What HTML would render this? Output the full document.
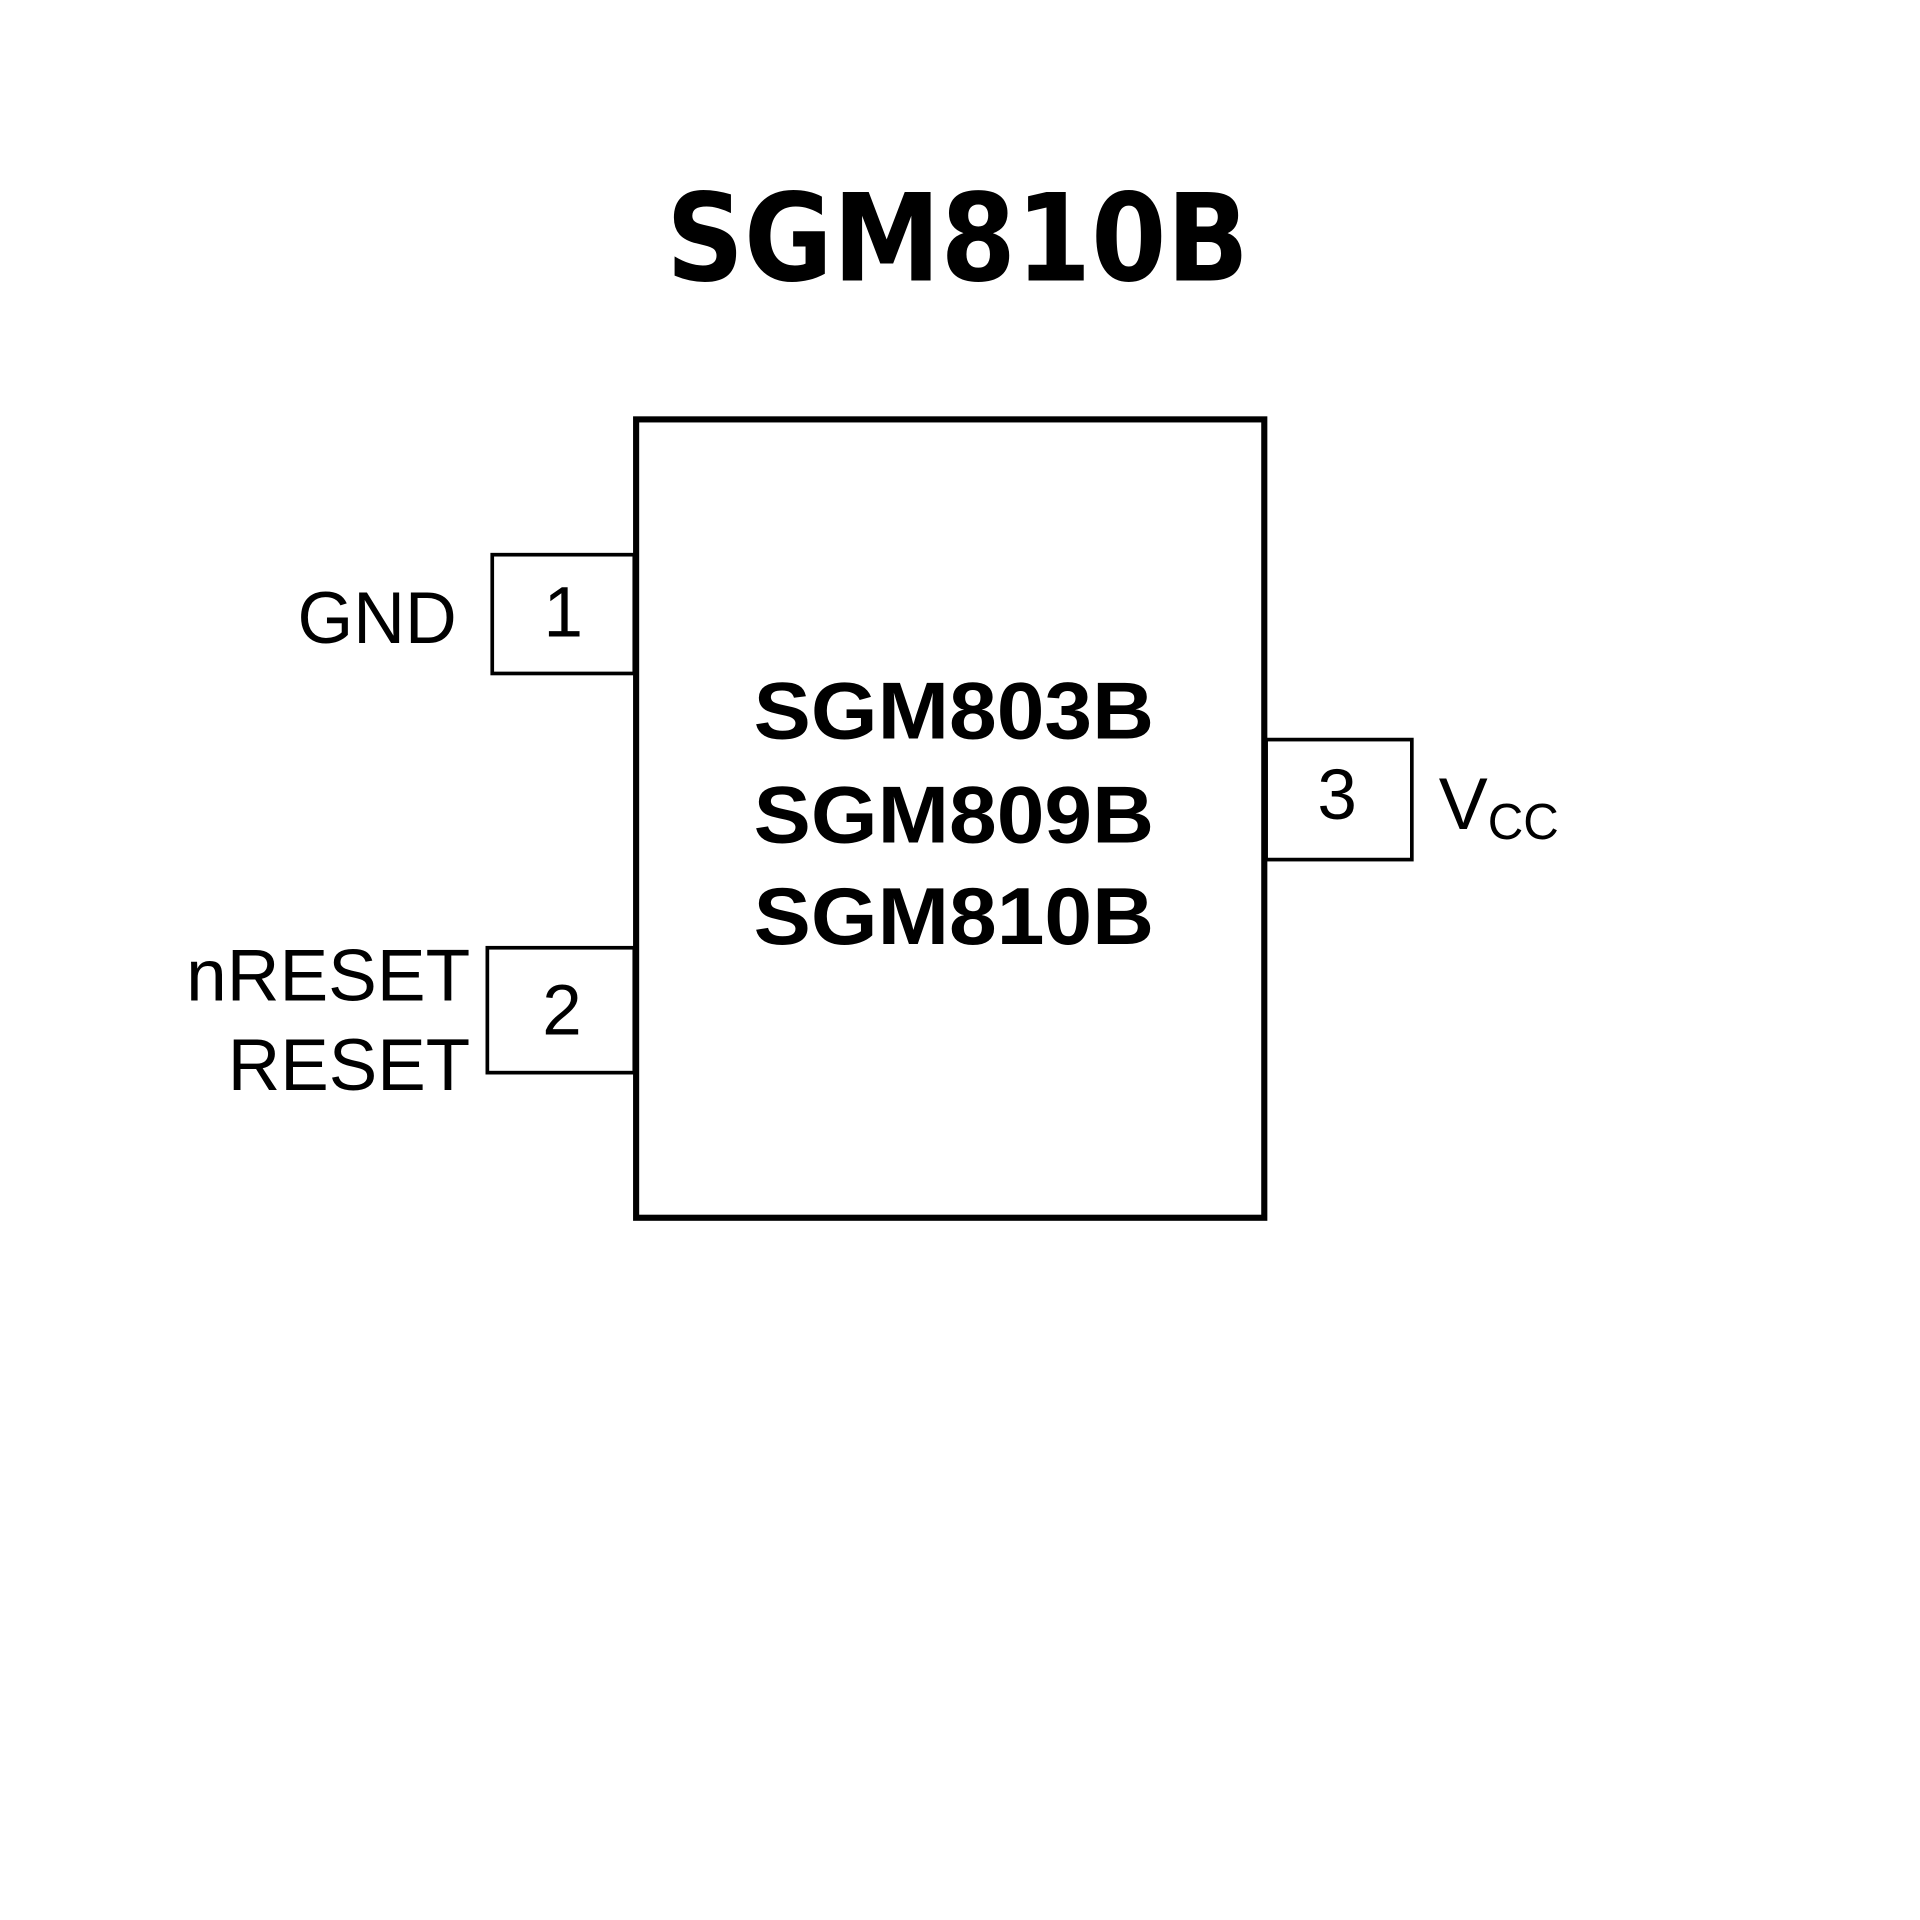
<!DOCTYPE html>
<html><head><meta charset="utf-8"><style>
html,body{margin:0;padding:0;background:#fff;}
svg{display:block;}
</style></head><body>
<svg width="1920" height="1920" viewBox="0 0 1568 1568" xmlns="http://www.w3.org/2000/svg">
<rect width="1568" height="1568" fill="#fff"/>
<text x="782" y="229" text-anchor="middle" font-family="'DejaVu Sans',sans-serif" font-weight="bold" font-size="99" textLength="476" lengthAdjust="spacingAndGlyphs">SGM810B</text>
<rect x="519.5" y="342.5" width="513" height="652" fill="none" stroke="#000" stroke-width="5"/>
<rect x="402" y="453" width="116" height="97" fill="none" stroke="#000" stroke-width="3"/>
<rect x="398" y="774" width="120" height="102" fill="none" stroke="#000" stroke-width="3"/>
<rect x="1034" y="604" width="119" height="98" fill="none" stroke="#000" stroke-width="3"/>
<g font-family="'Liberation Sans',Arial,sans-serif" fill="#000">
<text x="460" y="520" text-anchor="middle" font-size="58">1</text>
<text x="459" y="845" text-anchor="middle" font-size="58">2</text>
<text x="1092" y="669" text-anchor="middle" font-size="58">3</text>
<text x="373" y="525" text-anchor="end" font-size="60" textLength="130" lengthAdjust="spacingAndGlyphs">GND</text>
<text x="384" y="817" text-anchor="end" font-size="60" textLength="232" lengthAdjust="spacingAndGlyphs">nRESET</text>
<text x="384" y="890" text-anchor="end" font-size="60" textLength="198" lengthAdjust="spacingAndGlyphs">RESET</text>
<text x="1175" y="677" font-size="60">V</text>
<text x="1215" y="685" font-size="42" textLength="58" lengthAdjust="spacingAndGlyphs">CC</text>
<g font-weight="bold" font-size="66" text-anchor="middle">
<text x="779" y="603" textLength="327" lengthAdjust="spacingAndGlyphs">SGM803B</text>
<text x="779" y="688" textLength="327" lengthAdjust="spacingAndGlyphs">SGM809B</text>
<text x="779" y="771" textLength="327" lengthAdjust="spacingAndGlyphs">SGM810B</text>
</g>
</g>
</svg>
</body></html>
